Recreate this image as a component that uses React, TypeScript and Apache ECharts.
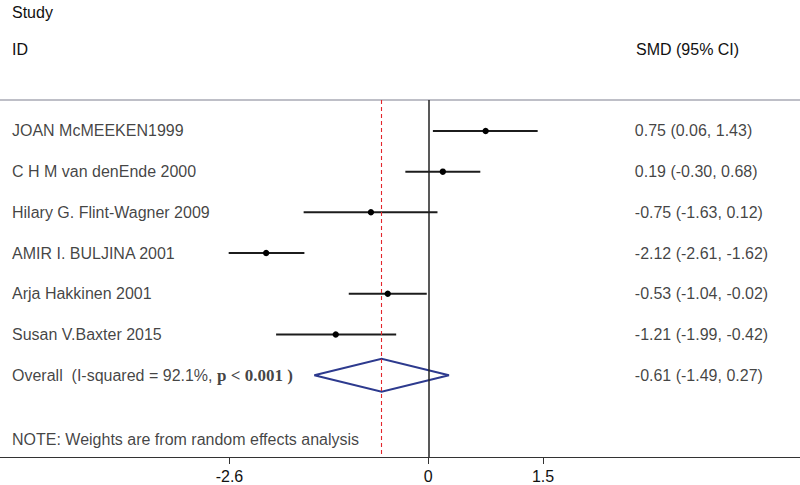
import React, { useEffect, useRef } from "react";
import * as echarts from "echarts";

// ---- data ----
const studies = [
  "JOAN McMEEKEN1999",
  "C H M van denEnde 2000",
  "Hilary G. Flint-Wagner 2009",
  "AMIR I. BULJINA 2001",
  "Arja Hakkinen 2001",
  "Susan V.Baxter 2015",
];
const smd = [0.75, 0.19, -0.75, -2.12, -0.53, -1.21];
const lower = [0.06, -0.3, -1.63, -2.61, -1.04, -1.99];
const upper = [1.43, 0.68, 0.12, -1.62, -0.02, -0.42];
const overall = [-0.61, -1.49, 0.27]; // estimate, lower, upper
const overallText = "Overall  (I-squared = 92.1%, ";
const overallP = "p < 0.001 )";
const noteText = "NOTE: Weights are from random effects analysis";
const tickValues = [-2.6, 0, 1.5];

// ---- layout (not data) ----
const X_MIN = -5.6;
const X_MAX = 4.86;
const Y_MIN = 0.24;
const Y_MAX = 9.01;
const LABEL_X = X_MIN;
const VALUE_COL_X = 2.7;
const OVERALL_ROW = studies.length + 1;
const NOTE_ROW = 8.57;
const FONT = "Liberation Sans";

const fmt = (v: number) => v.toFixed(2);
const ciLabel = (e: number, l: number, u: number) => `${fmt(e)} (${fmt(l)}, ${fmt(u)})`;

export default function App() {
  const ref = useRef<HTMLDivElement>(null);

  useEffect(() => {
    if (!ref.current) return;
    const chart = echarts.init(ref.current, undefined, { renderer: "svg" });

    const rows = studies.map((_, i) => i + 1);
    const ciData = rows.map((r, i) => [r, lower[i], smd[i], upper[i]]);
    const studyLabelData = studies.map((s, i) => ({ value: [LABEL_X, rows[i]], name: s }));
    const valueLabelData = rows.map((r, i) => ({
      value: [VALUE_COL_X, r],
      name: ciLabel(smd[i], lower[i], upper[i]),
    }));
    valueLabelData.push({
      value: [VALUE_COL_X, OVERALL_ROW],
      name: ciLabel(overall[0], overall[1], overall[2]),
    });

    const textLabel = {
      show: true,
      position: "right",
      distance: 0,
      fontSize: 16,
      fontFamily: FONT,
      color: "#111",
      formatter: (p: any) => p.name,
    };

    chart.setOption({
      animation: false,
      backgroundColor: "#fff",
      grid: { left: 0, right: 0, top: 100, bottom: 28, containLabel: false },
      xAxis: [
        {
          type: "value",
          min: X_MIN,
          max: X_MAX,
          position: "bottom",
          axisLine: { show: true, lineStyle: { color: "#333", width: 1 } },
          axisTick: { show: true, customValues: tickValues, length: 7, lineStyle: { color: "#333", width: 1 } },
          axisLabel: {
            show: true,
            customValues: tickValues,
            formatter: (v: number) => String(v),
            fontSize: 16,
            fontFamily: FONT,
            color: "#111",
            margin: 11,
          },
          splitLine: { show: false },
        },
        {
          type: "value",
          min: X_MIN,
          max: X_MAX,
          position: "top",
          axisLine: { show: true, lineStyle: { color: "#a9aab4", width: 1.5 } },
          axisTick: { show: false },
          axisLabel: { show: false },
          splitLine: { show: false },
        },
      ],
      yAxis: {
        type: "value",
        inverse: true,
        min: Y_MIN,
        max: Y_MAX,
        show: false,
      },
      graphic: [
        { type: "text", left: 12, top: 4, style: { text: "Study", fontSize: 16, fontFamily: FONT, fill: "#111" } },
        { type: "text", left: 12, top: 41, style: { text: "ID", fontSize: 16, fontFamily: FONT, fill: "#111" } },
        { type: "text", left: 636, top: 41, style: { text: "SMD (95% CI)", fontSize: 16, fontFamily: FONT, fill: "#111" } },
      ],
      series: [
        {
          type: "scatter",
          name: "pooled",
          data: [],
          silent: true,
          markLine: {
            silent: true,
            symbol: ["none", "none"],
            label: { show: false },
            lineStyle: { color: "#e3262c", width: 1.1, type: [4, 3], opacity: 1 },
            data: [{ xAxis: overall[0] }],
          },
        },
        {
          type: "scatter",
          name: "nullLine",
          data: [],
          silent: true,
          markLine: {
            silent: true,
            symbol: ["none", "none"],
            label: { show: false },
            lineStyle: { color: "#222", width: 1.5, type: "solid", opacity: 1 },
            data: [{ xAxis: 0 }],
          },
        },
        {
          type: "custom",
          name: "ci",
          data: ciData,
          encode: { x: [1, 2, 3], y: 0 },
          clip: false,
          renderItem: (params: any, api: any) => {
            const row = api.value(0);
            const a = api.coord([api.value(1), row]);
            const e = api.coord([api.value(2), row]);
            const b = api.coord([api.value(3), row]);
            return {
              type: "group",
              children: [
                {
                  type: "line",
                  shape: { x1: a[0], y1: a[1], x2: b[0], y2: b[1] },
                  style: { stroke: "#1c1c1c", lineWidth: 2 },
                },
                {
                  type: "circle",
                  shape: { cx: e[0], cy: e[1], r: 3.2 },
                  style: { fill: "#000" },
                },
              ],
            };
          },
        },
        {
          type: "custom",
          name: "overall",
          data: [[OVERALL_ROW, overall[1], overall[0], overall[2]]],
          encode: { x: [1, 2, 3], y: 0 },
          clip: false,
          renderItem: (params: any, api: any) => {
            const row = api.value(0);
            const l = api.coord([api.value(1), row]);
            const e = api.coord([api.value(2), row]);
            const u = api.coord([api.value(3), row]);
            const h = 16.5;
            return {
              type: "polygon",
              shape: {
                points: [
                  [l[0], l[1]],
                  [e[0], e[1] - h],
                  [u[0], u[1]],
                  [e[0], e[1] + h],
                ],
              },
              style: { fill: "none", stroke: "#2d3a8e", lineWidth: 2 },
            };
          },
        },
        {
          type: "scatter",
          name: "studyLabels",
          data: studyLabelData,
          symbolSize: 0,
          clip: false,
          silent: true,
          label: { ...textLabel, distance: 12 },
        },
        {
          type: "scatter",
          name: "overallLabel",
          data: [{ value: [LABEL_X, OVERALL_ROW], name: "overall" }],
          symbolSize: 0,
          clip: false,
          silent: true,
          label: {
            show: true,
            position: "right",
            distance: 12,
            formatter: `{a|${overallText}}{b|${overallP}}`,
            rich: {
              a: { fontSize: 16, fontFamily: FONT, color: "#111" },
              b: { fontSize: 17, fontFamily: "Liberation Serif", fontWeight: "bold", color: "#111" },
            },
          },
        },
        {
          type: "scatter",
          name: "note",
          data: [{ value: [LABEL_X, NOTE_ROW], name: noteText }],
          symbolSize: 0,
          clip: false,
          silent: true,
          label: { ...textLabel, distance: 12 },
        },
        {
          type: "scatter",
          name: "valueLabels",
          data: valueLabelData,
          symbolSize: 0,
          clip: false,
          silent: true,
          label: textLabel,
        },
      ],
    });

    return () => chart.dispose();
  }, []);

  return (
    <div
      ref={ref}
      style={{ position: "fixed", left: 0, top: 0, width: 800, height: 485, background: "#fff" }}
    />
  );
}
